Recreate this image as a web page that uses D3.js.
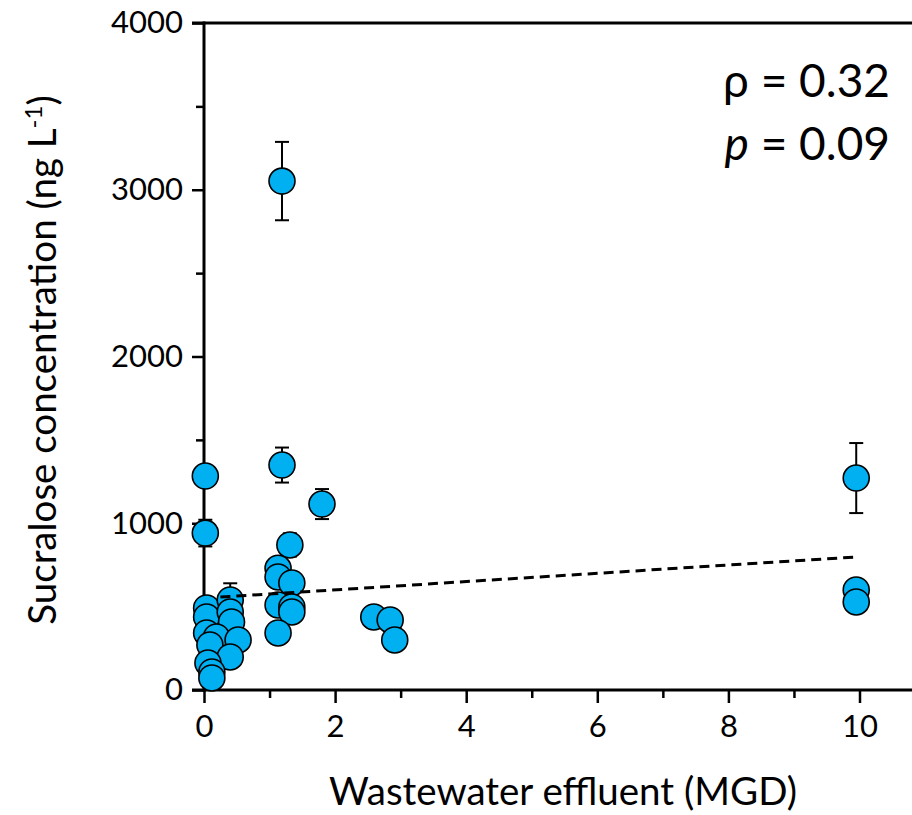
<!DOCTYPE html>
<html>
<head>
<meta charset="utf-8">
<script src="https://cdn.jsdelivr.net/npm/d3@7"></script>
<style>
  body { margin: 0; background: #fff; }
  svg { display: block; font-family: Lato, "Open Sans", sans-serif; }
</style>
</head>
<body>
<div id="chart"></div>
<script>
// wastewater effluent (MGD) vs sucralose (ng/L)
var xVals = [0.02, 0.02, 0.04, 0.04, 0.40, 0.40, 0.42, 0.04, 0.19, 0.52, 0.09, 0.40, 0.06, 0.12, 0.12,
             1.19, 1.19, 1.80, 1.31, 1.13, 1.13, 1.34, 1.13, 1.34, 1.34, 1.13,
             2.59, 2.84, 2.91, 9.95, 9.95, 9.95];
var yVals = [1283, 941, 492, 438, 540, 468, 408, 342, 318, 300, 270, 198, 162, 108, 72,
             3052, 1349, 1115, 870, 730, 678, 642, 510, 498, 468, 342,
             438, 420, 300, 1271, 600, 528];
var errVals = [0, 80, 0, 0, 100, 0, 0, 0, 0, 0, 0, 0, 0, 0, 0,
               235, 105, 90, 70, 0, 0, 0, 0, 0, 0, 0,
               0, 0, 0, 210, 0, 0];
var trendX = [0.25, 9.95];
var trendY = [557, 798];
var yTicks = [0, 1000, 2000, 3000, 4000];
var xTicks = [0, 2, 4, 6, 8, 10];

var W = 912, H = 815;
var svg = d3.select("#chart").append("svg")
  .attr("width", W)
  .attr("height", H);

var x = d3.scaleLinear().domain([0, 11]).range([204, 204 + 11 * 65.55]);
var y = d3.scaleLinear().domain([0, 4000]).range([690, 23]);

// top border
svg.append("line")
  .attr("x1", x(0) - 12).attr("x2", x(11))
  .attr("y1", y(4000)).attr("y2", y(4000))
  .attr("stroke", "#000").attr("stroke-width", 3);

// y axis
var yAxis = svg.append("g").attr("transform", "translate(" + x(0) + ",0)");
yAxis.call(d3.axisLeft(y).tickValues(d3.range(500, 4000, 1000)).tickSize(8).tickFormat(""));
yAxis.call(g => g.append("g").call(d3.axisLeft(y).tickValues(yTicks).tickSize(12).tickPadding(9).tickFormat(d3.format("d"))));
yAxis.selectAll(".domain").remove();
yAxis.append("line").attr("x1", 0).attr("x2", 0).attr("y1", y(0) + 1.5).attr("y2", y(4000) - 1.5)
  .attr("stroke", "#000").attr("stroke-width", 3);

// x axis
var xAxis = svg.append("g").attr("transform", "translate(0," + y(0) + ")");
xAxis.call(d3.axisBottom(x).tickValues(d3.range(1, 11, 2)).tickSize(8).tickFormat(""));
xAxis.call(g => g.append("g").call(d3.axisBottom(x).tickValues(xTicks).tickSize(13).tickPadding(12)));
xAxis.selectAll(".domain").remove();
xAxis.append("line").attr("x1", x(0) - 12).attr("x2", x(11)).attr("y1", 0).attr("y2", 0)
  .attr("stroke", "#000").attr("stroke-width", 3);

svg.selectAll(".tick line").attr("stroke", "#000").attr("stroke-width", 2.5);
svg.selectAll(".tick text").attr("font-size", 31).attr("fill", "#000")
  .attr("font-family", "Lato, sans-serif");

// axis titles
svg.append("text")
  .attr("x", 563).attr("y", 805)
  .attr("text-anchor", "middle")
  .attr("font-size", 38.5)
  .text("Wastewater effluent (MGD)");

var yl = svg.append("text")
  .attr("transform", "translate(56,360) rotate(-90)")
  .attr("text-anchor", "middle")
  .attr("font-size", 38.5);
yl.append("tspan").text("Sucralose concentration (ng L");
yl.append("tspan").attr("font-size", 24).attr("dy", -14).text("-1");
yl.append("tspan").attr("dy", 14).text(")");

// points
var pts = xVals.map((d, i) => ({ x: d, y: yVals[i], e: errVals[i] }));

var eb = svg.append("g").selectAll("g").data(pts.filter(d => d.e > 0)).join("g")
  .attr("stroke", "#000").attr("stroke-width", 2);
eb.append("line").attr("x1", d => x(d.x)).attr("x2", d => x(d.x))
  .attr("y1", d => y(d.y - d.e)).attr("y2", d => y(d.y + d.e));
eb.append("line").attr("x1", d => x(d.x) - 7).attr("x2", d => x(d.x) + 7)
  .attr("y1", d => y(d.y + d.e)).attr("y2", d => y(d.y + d.e));
eb.append("line").attr("x1", d => x(d.x) - 7).attr("x2", d => x(d.x) + 7)
  .attr("y1", d => y(d.y - d.e)).attr("y2", d => y(d.y - d.e));

svg.append("g").selectAll("circle").data(pts).join("circle")
  .attr("cx", d => x(d.x))
  .attr("cy", d => y(d.y))
  .attr("r", 13)
  .attr("fill", "#00B0F0")
  .attr("stroke", "#000")
  .attr("stroke-width", 1.6);

// trend line
svg.append("path")
  .datum(trendX.map((d, i) => [d, trendY[i]]))
  .attr("fill", "none")
  .attr("stroke", "#000")
  .attr("stroke-width", 3)
  .attr("stroke-dasharray", "10,6")
  .attr("d", d3.line().x(d => x(d[0])).y(d => y(d[1])));

// stats
svg.append("text").attr("x", 890).attr("y", 97).attr("text-anchor", "end")
  .attr("font-size", 46).text("ρ = 0.32");
var t2 = svg.append("text").attr("x", 890).attr("y", 160).attr("text-anchor", "end")
  .attr("font-size", 46);
t2.append("tspan").attr("font-style", "italic").text("p");
t2.append("tspan").text(" = 0.09");
</script>
</body>
</html>
